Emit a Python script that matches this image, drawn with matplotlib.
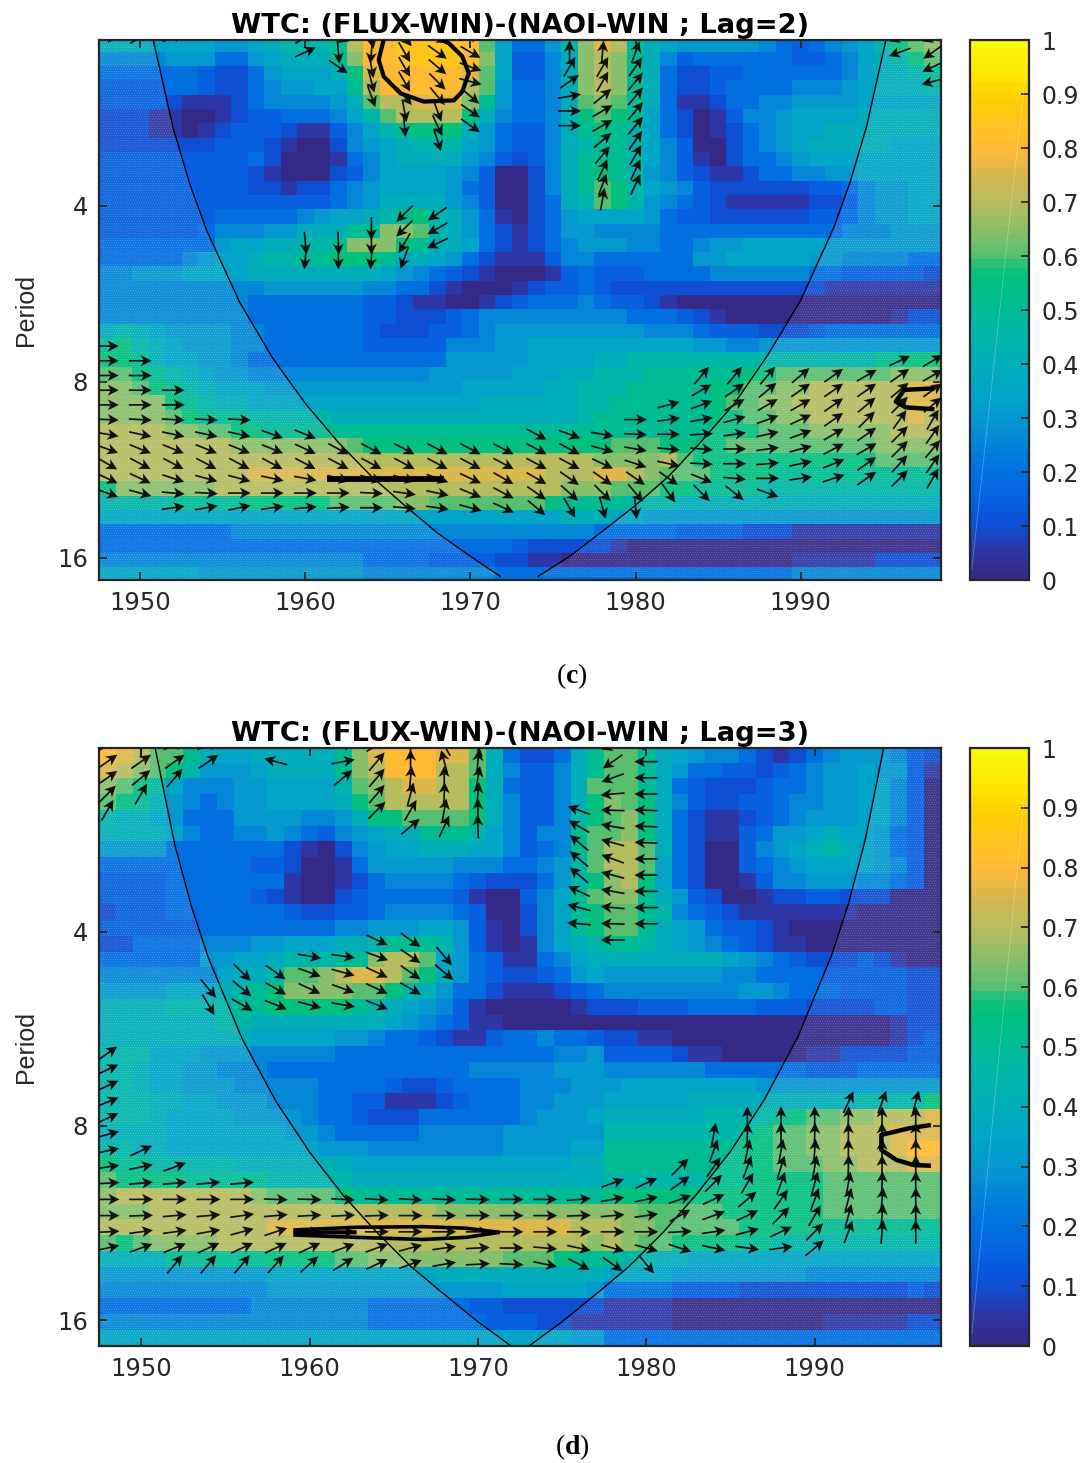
import numpy as np
import matplotlib
matplotlib.use('Agg')
import matplotlib.pyplot as plt
from matplotlib.colors import LinearSegmentedColormap
from matplotlib.cm import ScalarMappable
from matplotlib.colors import Normalize

# coherence, one letter per year: a=0, b=.05, c=.1 ... s=.9
coh_c = [
"iiihhhhggh ijjjkoqqrr rrqmheegjn pokihggggg fedefghjlm n",
"ffffgggeeg hiiiknqqrr rrqnhddfin onkifdeeee eeddefhijl m",
"eeeeeedcce ghhhilpqqq qqpmhddfin onkieccdde eeeeefhiij k",
"ddddeedcce fgghhkoqqq qqomgeefin onkieccdee eefffghiii j",
"ddddcbbbce ffffgimoop ppnkgeefim nmkiebbcee ffgggghhhh h",
"cccbbaabcd deeefhjmoo oolifeefil mlkhecabdf fghhhhiiii i",
"cccbbabcdd dcbbdfhjkl lligeddfik lkjhecabce fghhiiiiii i",
"cccccccddd cbaacfghij jjhgeddfij kkjhfdaace fghiiiiihh h",
"ddddddddde caaabefhii iigfdcdfik kkjhfdbace efghhhhhhh h",
"dddddddddc baaacdfhhh hgfdaacfik lkjgfdcbbc eeffgghhhh h",
"dddddddddc cbccefghhh hgedaacfik mljhgfdccc cccddefggh h",
"dddddddddd ddddefgiii igfdaaceij mljgfedcbb bbbccdfggh h",
"dddddddeee eefghhijkl jigebacegh hhhgeddccc cccddefggh h",
"ddddddefff ggiiikknnm jigecbcegg ffffeeeeee eeeeefffgg g",
"eeeeeeeghh iijjknnnlk iihecbcefg ggffeefggh hhhhgggggg g",
"eeeeefghhi jjkklllkii hgecbbbdff eeeeeegghh hhhggffffe e",
"ffggghhhhi iiiiiiihgf edcbaaabde dddeeeefff fffeeddddd c",
"ffffffffff ggggggffee cbaaabcdde dccccccccc ccccbbbbbb b",
"fffffffffe eeeeeeddcb baabcdeeef eddcbaaaaa aaaaaaaaaa a",
"fffffffffe eeeeeeddcc cdefffffff ffeeedcbaa aaaaaaaabc c",
"ijihggggff eeeeeedccc ddefgggggg gggfffeddd cccdeeeeee e",
"kljihgggff eeeeeedddd dfffgghhhh hhhhhhggff gggggggggg g",
"llkihhggfe eeeeeeeeee eggggghhhh iijjjjjjjj jjjjjjjkkl l",
"mmlkjihggf ffffffffff ggggghhhii jjjkkkkkkl lmmmmmmmnn n",
"nnmlkjihhh gggggggggg gghhhhhiij jjkkkkkllm mnnoooooop p",
"nnnnlkjiih hhhhhhhhhh hhhiiiiiij jkkkkkklmm nnooooooop p",
"nnnnmlkkkj jjjjiiiiii iiiiiiiiij kkkkkkkllm mnnoooooop o",
"oooonnmmll kkkkkkkkkk kkkkkkkkkk kkkkkkklll mmmnnnnnoo o",
"oooooooonn nnnnnmllll llllllllll lmmmllllmm mmmmmmmnnn n",
"oooooooooo oooooooooo oooooooooo nnnnomllll lllllllmmm m",
"ooooooooop pppppppppp pppppppooo pponmmmlll lkkkkkkkkk k",
"lnnnnnnooo oooooooooo oooooooonn nmmmllkkkk jjjjjjjjjj j",
"jjjjkkkkkl llllmmmmnn mmmmmmmlkk kkjjjiiiii iiiiiiiiii i",
"hhhhhhhhhh hhhhhhhhhh hhhhhhhhii ihhggggggg gggggggggg g",
"eeeeeeeeff ffffffffff ffffffffff eeeeeddddc ccbbbbbbbb b",
"eeeeeeeeee eeeeeeeeee eeeeedcccc cbaaaaaaaa aaaaaaaaaa a",
"ffffffffff ffffffeeee ddddccbbaa aaaaaaaaaa aabbbbbccc c",
"hhhhhhgggg ggggggffff ffffeeeeee eeeeeeeeee eeffffffff f",
]

coh_d = [
"qpommkihhi iiiiknpqqq ppmiecceik mmkihgffec bcefgggfdc",
"ponmljgggh iiiiknoqqq oomifddfik mmkigeeddc defgghggdb",
"nmljhfffgg hhhhjmnopp oolieddfim mmkiedcccd eefgghhfda",
"mlkigfefgg hhhhilmooo oolifddfil nmlifdccdd effgghhfda",
"jiihgeeegg ggffgillmm mmlifddfjl mnliecbbcd efggghhfda",
"iiiihfeeff gfedfghiik kkjhfdffkm mnliecbbde gghihhgeda",
"ggggeeeeee ecbacfghhi iihhfdefkm oomiecaadf ghijihgeda",
"eeeeeeeeed dcaabegggg gfffeefgjm oomhecaade fghhhhgfda",
"ddddeeeeee ebaabcefff fedcccegjl nolhecaabd ffgggffeda",
"ddddeeeeed cbaacdeeee edbaadfhkm nnkigdcaab ccddcccaaa",
"cdddeeeeee edccddefff fedaacfhkl mmkjfedcbb bbbbbaaaaa",
"ddddddeeee eeeeffgggh hgdbacfhkl mmkihgeddc baaaaaaaaa",
"cceeeefffg ghhhiijkkk jgdbabfhij kkjihgfedc bbaaaaaaaa",
"eeeeeegghh ijjjkknoom hgedbbefhi iiiiiiihgf edcccdcbaa",
"fffffffhii jmmnoppoml igedccdegh gggggggffe eeedddddcc",
"gggghhhijk lnnnnmmlji geecbbbcde ffffffffgg feeeddddcc",
"iiiijjjjkk lllllkjihg fdbaaaaabc ccdddeeeed ddccccddcc",
"iiiiiiijji iiiiiiihgf edbbaaaaaa aaaaaaaaaa aaaaaaabcc",
"iiiiiiiiih hhhhggfeed cbbdeefeed ccbbaaaaaa aaaaaaabcd",
"jjjhhhgggf ffffeeeeee eeeeeeeffg ddddcbbaaa aabbccccdd",
"jjihhggfff eeeeeeeeee eefffffggg ffffffeeee eedddeeeee",
"jjihhgggff fffeeeedcc deeeefffgg ghhhhhhhhg gggggggggg",
"jjjiihhggg fffeeddbbb cdeeeffggg hhhhhiiiii iiiiijjjjl",
"jjjihhhhgg ggfeedccce eeeeefgggh iiiiiijjjj klmmnnooop",
"iiiihhhhhh hggfeeeeef ffffgggggg jjjjjjjjkl mmnnoooppp",
"jjiihhhhhh hhhgggffff ffffgggghh kkkkkkkkll mmnnooopqq",
"lkkjjjjjii iiiiihhhhh hhhhhhhhii kkkkkkkkll mmmnnooopp",
"mllllkkkkk jjjjjiiiii iiiiiiiiii jjjjjjkkkl lllmmmmmmm",
"noooooooon mmmmlkkkkk kkkkkkkkkk llllllllll lllmmmmmmm",
"nnnooooooo oooooooooo nnnnnnnnnn nnmmmmmlll lllmmmmmmm",
"oooooooooo pppppppppp ppppppppoo onnmmmmmll lllkkkkkkk",
"mlmnnnnooo oooooooooo ooooooooon onmmllllkk jjjjjjjjjj",
"iiiikkkkkk llllmmnnnn nnnnmmmlkk kjjiihhhhh hhhhhhhhhh",
"gggggggggg hhhhhhhhhh iiiiiiiiii hhhhgggggg ggffffffff",
"ffffffffff gggggggggg gggghhhhhg eeeeddddcc ccccccccdc",
"eeeeeeeeef ffffffeeee eeddcccccc bbbbaaaaaa aaaaaaaaaa",
"ffffffffff ffffffeeee eeedddccbb bbbbaaaaaa aaabbbbbcc",
"hhhhhhhhhh hhhhhhhhhh hhhhhhhhgg eeeeeeeeee eeeeeeeeee",
]

# phase arrows: (row, first year, angles in degrees, one per 2 years)
arrows_c = [
(0,1948,[0,30,20]),(0,1960,[30,-20,-80,-50,-30,15]),(0,1996,[200,200]),
(1,1960,[25,-85,-95,-60,-35,-30]),(1,1976,[90,85,70]),(1,1996,[200,215]),
(2,1962,[-35,-80,-60,-40,-20]),(2,1976,[60,60,55]),(2,1998,[205]),
(3,1964,[-75,-60,-45,-15]),(3,1976,[35,60,50]),(3,1998,[195]),
(4,1964,[-70,-50,-50,-40]),(4,1976,[10,40,50]),
(5,1966,[-80,-70,-35]),(5,1976,[0,30,50]),
(6,1966,[-85,-65,-35]),(6,1976,[0,30,50]),
(7,1968,[-72]),(7,1978,[40,55]),(8,1978,[50,60]),(9,1978,[65,65]),(10,1978,[70,65]),(11,1978,[80]),
(12,1966,[225,215]),(13,1964,[-90,225,210]),(14,1960,[-85,-88,-90,240,205]),(15,1960,[-95,-90,-95,-110]),
(21,1948,[0]),(22,1948,[0,0]),(22,1996,[25,30]),(23,1948,[0,0]),(23,1984,[50,50,50,40,35,30,35,30]),
(24,1948,[0,0,0]),(24,1984,[30,35,40,35,35,35,40,35]),
(25,1948,[0,0,0]),(25,1982,[15,20,30,30,30,35,40,45,40]),
(26,1948,[-3,-3,-3,-3,-3]),(26,1980,[0,8,10,15,20,25,35,45,55,60]),
(27,1948,[-10,-12,-12,-12,-12,-20,-22]),(27,1974,[-28,-20,-10,-3,0,3,8,12,20,30,35,45,55]),
(28,1948,[-20,-22,-22,-22,-22,-22,-25,-28,-28,-28,-28,-28,-28,-28,-28,-15,-10,-5,-5,0,8,15,28,30,45,50]),
(29,1948,[-30,-28,-28,-28,-28,-28,-28,-28,-28,-28,-28,-28,-28,-28,-28,-25,-18,-12,-3,0,5,12,22,35,48,55]),
(30,1948,[-25,-25,-18,-15,-15,-12,-10,-15,-15,-15,-20,-25,-30,-30,-35,-35,-35,-35,-22,-5,0,8,18,35,45,60]),
(31,1948,[-20,-15,-5,-3,0,0,0,0,-3,-8,-12,-22,-28,-35,-42,-45,-50,-55,-45,-38,-20]),
(32,1952,[8,10,12,8,5,3,0,-5,-8,-15,-25,-40,-60,-75,-85]),
]

arrows_d = [
(0,1948,[30,90,20,20]),(0,1962,[10,30,90,120,110]),(0,1978,[200,180]),
(1,1948,[35,35,35,35]),(1,1958,[165]),(1,1962,[10,50,90,105,85]),(1,1978,[215,180]),
(2,1948,[35,40,50]),(2,1962,[40,50,85,90,80]),(2,1978,[200,180]),
(3,1948,[45,60]),(3,1964,[50,75,88,85]),(3,1978,[185,180]),
(4,1948,[60]),(4,1964,[45,60,80,90]),(4,1976,[160,178,178]),
(5,1966,[40,65,92]),(5,1976,[150,170,178]),
(6,1976,[140,165,178]),(7,1976,[140,160,180]),(8,1976,[140,165,180]),(9,1976,[155,170,180]),
(10,1976,[165,175,180]),(11,1976,[175,178,180]),(12,1978,[180]),
(12,1964,[-25,-35]),(13,1960,[-10,-8,-20,-35,-50]),
(14,1956,[-45,-35,-20,-15,-25,-35,-40]),(15,1954,[-50,-40,-30,-25,-20,-25,-30]),
(16,1954,[-60,-30,-22,-15,-10,-22]),
(19,1948,[35]),(20,1948,[25]),(21,1948,[25]),(22,1948,[22]),(22,1992,[65,70,75]),
(23,1948,[25]),(23,1986,[90,90,90,88,90,90]),(24,1948,[15]),(24,1984,[80,88,90,88,90,90,90]),
(25,1948,[12,25]),(25,1984,[70,78,80,85,90,90,90]),
(26,1948,[8,12,20]),(26,1982,[45,55,70,72,80,88,90,90]),
(27,1948,[3,5,5,5,5]),(27,1978,[20,25,35,45,60,70,75,80,88,90]),
(28,1948,[0,0,0,0,0,-2,-2,-3,-3,-3,-3,-2,0,0,5,10,12,20,25,40,55,70,75,85,90]),
(29,1948,[0,2,5,5,8,5,3,3,2,0,0,0,0,0,2,5,8,30,20,25,45,60,75,85,90]),
(30,1948,[3,8,8,10,15,18,0,0,0,0,0,0,0,0,0,0,0,3,8,15,25,45,70,85,90]),
(31,1948,[12,20,22,25,25,25,25,20,20,15,8,3,0,-5,-12,-15,-15,-18,-12,-8,8,40]),
(32,1952,[50,50,50,48,42,32,25,20,10,3,-3,-12,-28,-35,-50]),
]

# cone of influence
coi_left_yr_c = [1950.8,1952,1953,1954,1956,1958,1960,1962,1964,1966,1968,1970,1971.8]
coi_left_p_c = [2.09,2.95,3.67,4.39,5.83,7.27,8.71,10.15,11.6,13.0,14.5,15.9,17.2]
coi_right_yr_c = [1974.1,1976,1978,1980,1982,1984,1986,1988,1990,1992,1993,1994,1995.15]
coi_right_p_c = [17.2,15.9,14.4,13.0,11.6,10.1,8.7,7.2,5.8,4.36,3.64,2.92,2.09]
coi_left_yr_d = [1950.83,1952,1953,1954,1956,1958,1960,1962,1964,1966,1968,1970,1971.9]
coi_left_p_d = [2.07,2.93,3.66,4.39,5.86,7.32,8.78,10.25,11.7,13.2,14.6,16.1,17.5]
coi_right_yr_d = [1973.1,1975,1977,1979,1981,1983,1985,1987,1989,1991,1992,1993,1994.1]
coi_right_p_d = [17.5,16.1,14.6,13.2,11.7,10.2,8.76,7.29,5.82,4.35,3.62,2.88,2.07]

# significance contours (year, log2 period)
sig_c = [
([1964.75,1964.44,1964.75,1965.76,1967.17,1969,1969.5,1969.9,1969.5,1968.7,1968.2],
 [1.053,1.17,1.265,1.36,1.407,1.40,1.35,1.246,1.15,1.076,1.053],3.0),
([1961.3,1968.4],[3.551,3.551],4.2),
([1998.1,1996.26,1995.76,1996.36,1998.1],[3.036,3.045,3.112,3.144,3.155],3.2),
]
sig_d = [
([1959.04,1962.8,1966.75,1969.3,1971.3],[3.536,3.522,3.519,3.527,3.548],2.6),
([1959.04,1962.8,1966.75,1969.3,1971.3],[3.562,3.574,3.585,3.574,3.548],2.6),
([1959.04,1962.8],[3.549,3.548],3.0),
([1996.9,1995.6,1993.96,1993.96,1994.85,1995.85,1996.9],[2.995,3.012,3.046,3.124,3.175,3.201,3.205],3.2),
]

cbar_ticks = [0,.1,.2,.3,.4,.5,.6,.7,.8,.9,1]
cbar_labels = ['0','0.1','0.2','0.3','0.4','0.5','0.6','0.7','0.8','0.9','1']
year_ticks = [1950,1960,1970,1980,1990]
period_ticks = [4,8,16]

W, H = 1083, 1463
cmap_stops = [(0,'#352a87'),(.05,'#2d39a8'),(.1,'#0a50d8'),(.15,'#0563e0'),(.2,'#0072e0'),(.25,'#0485d8'),
              (.3,'#0598cf'),(.35,'#00a5c8'),(.4,'#00aeb8'),(.45,'#00b6a8'),(.5,'#00bb98'),(.55,'#00c080'),
              (.58,'#10c27a'),(.6,'#55bf72'),(.65,'#88bf6a'),(.7,'#b8bd60'),(.75,'#d2b852'),(.8,'#ffb838'),
              (.85,'#ffc320'),(.9,'#ffd000'),(.95,'#fde800'),(1,'#f8fa0d')]
parula = LinearSegmentedColormap.from_list('par', cmap_stops, N=64)

plt.rcParams['font.family'] = 'DejaVu Sans'
plt.rcParams['hatch.linewidth'] = 0.4
plt.rcParams['mathtext.fontset'] = 'custom'
plt.rcParams['mathtext.bf'] = 'Liberation Serif:bold'
plt.rcParams['mathtext.rm'] = 'Liberation Serif'
dark = '#262626'

fig = plt.figure(figsize=(W/100, H/100), dpi=100)


def box(x0, y0, x1, y1):
    return [x0/W, 1-y1/H, (x1-x0)/W, (y1-y0)/H]


def panel(top, bottom, coh, first_edge, edge_step, ylim, xmax, arrows, a0, astep, alen, coil, coir, sig, title):
    ax = fig.add_axes(box(99, top, 941, bottom))
    vals = np.array([[(ord(ch)-97)*0.05 for ch in r.replace(' ', '')] for r in coh])
    yrs = np.arange(1948, 1948+vals.shape[1]+1)-0.5
    edges = 2.0**(first_edge+edge_step*np.arange(vals.shape[0]+1))
    ax.pcolormesh(yrs, edges, vals, cmap=parula, vmin=0, vmax=1, shading='flat')
    ax.set_yscale('log', base=2)
    ymin, ymax = 2.0**ylim[0], 2.0**ylim[1]

    # white dots outside the cone
    ax.fill([1947.5]+coil[0]+[1947.5], [ymin]+coil[1]+[ymax], facecolor=(1,1,1,0.05),
            edgecolor=(1,1,1,0.25), hatch='.......', lw=0)
    ax.fill([xmax]+coir[0][::-1]+[xmax], [ymin]+coir[1][::-1]+[ymax], facecolor=(1,1,1,0.05),
            edgecolor=(1,1,1,0.25), hatch='.......', lw=0)
    ax.plot(coil[0], coil[1], color='k', lw=1.0)
    ax.plot(coir[0], coir[1], color='k', lw=1.0)

    xa, ya, ua, va = [], [], [], []
    for n, yr, angs in arrows:
        for i, a in enumerate(angs):
            xa.append(yr+2*i)
            ya.append(2.0**(a0+astep*n))
            ua.append(np.cos(np.radians(a)))
            va.append(np.sin(np.radians(a)))
    ax.quiver(xa, ya, ua, va, angles='uv', units='dots', scale_units='dots', scale=1/alen, pivot='mid',
              width=1.7, headwidth=6.5, headlength=6.5, headaxislength=5, color='#111111', zorder=4)

    for xs, ls, lw in sig:
        ax.plot(xs, 2.0**np.array(ls), color='k', lw=lw, zorder=5, solid_capstyle='butt')

    ax.set_xlim(1947.5, xmax)
    ax.set_ylim(ymax, ymin)
    ax.set_xticks(year_ticks)
    ax.set_yticks(period_ticks)
    ax.set_yticklabels([str(p) for p in period_ticks])
    ax.minorticks_off()
    ax.tick_params(axis='both', direction='in', length=6, width=1.3, top=True, right=True, color=dark,
                   labelcolor=dark, labelsize=17.5)
    ax.tick_params(axis='x', pad=8)
    ax.tick_params(axis='y', pad=8)
    for s in ax.spines.values():
        s.set_color(dark)
        s.set_linewidth(1.6)
    ax.set_title(title, fontsize=19.7, fontweight='bold', family='DejaVu Sans', pad=5, color='k')
    fig.text(26/W, 1-((top+bottom)/2)/H, 'Period', rotation=90, ha='center', va='center',
             family='Liberation Sans', fontsize=18, color=dark)

    cax = fig.add_axes(box(970, top, 1029, bottom))
    cb = fig.colorbar(ScalarMappable(Normalize(0, 1), cmap=parula), cax=cax)
    cb.set_ticks(cbar_ticks)
    cb.set_ticklabels(cbar_labels)
    cax.tick_params(direction='in', length=6, width=1.3, color=dark, labelcolor=dark, labelsize=17, pad=9)
    cb.outline.set_edgecolor(dark)
    cb.outline.set_linewidth(1.6)
    cax.plot([0.03, 0.98], [0.02, 0.98], color='w', lw=0.6, alpha=0.3, transform=cax.transAxes)
    return ax


panel(40, 580, coh_c, 1.042, 0.08136, (1.057, 4.125), 1998.5, arrows_c, 1.0426, 0.0835, 23,
      (coi_left_yr_c, coi_left_p_c), (coi_right_yr_c, coi_right_p_c), sig_c, 'WTC: (FLUX-WIN)-(NAOI-WIN ; Lag=2)')
panel(748, 1346, coh_d, 1.046, 0.08119, (1.052, 4.134), 1997.5, arrows_d, 1.0387, 0.08356, 24,
      (coi_left_yr_d, coi_left_p_d), (coi_right_yr_d, coi_right_p_d), sig_d, 'WTC: (FLUX-WIN)-(NAOI-WIN ; Lag=3)')

fig.text(572/W, 1-676/H, r'($\mathbf{c}$)', family='Liberation Serif', fontsize=20, ha='center', va='center', color='k')
fig.text(572/W, 1-1447/H, r'($\mathbf{d}$)', family='Liberation Serif', fontsize=20, ha='center', va='center', color='k')

fig.savefig('out.png', dpi=100)
